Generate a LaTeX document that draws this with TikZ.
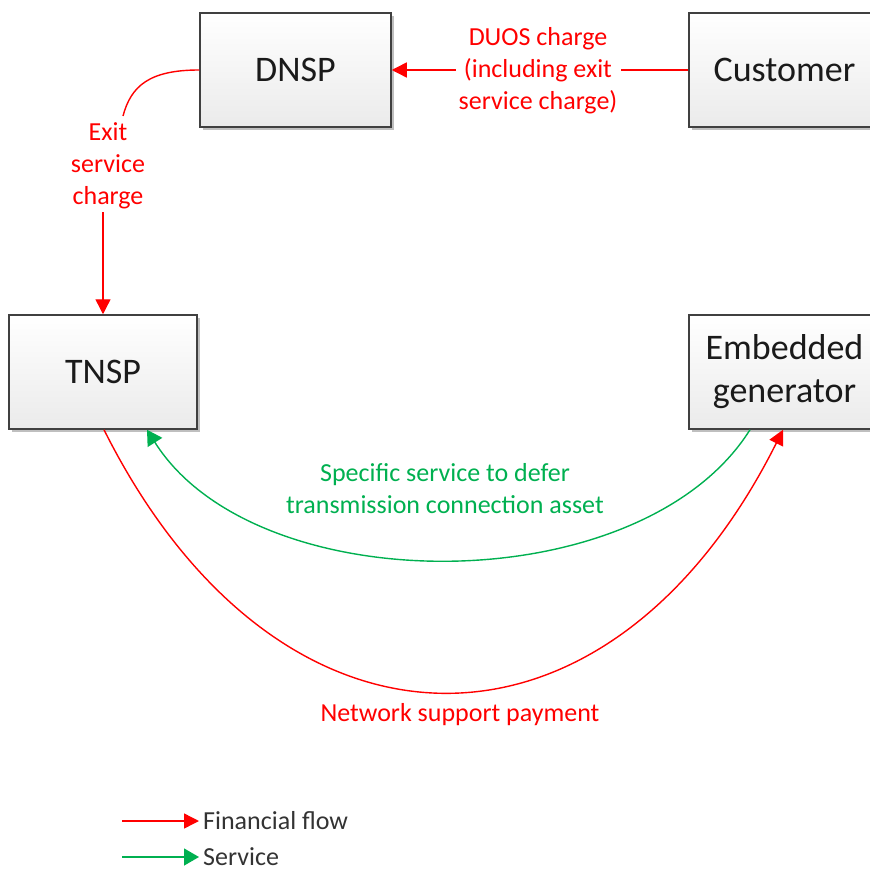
\documentclass[tikz,border=0pt]{standalone}
\usepackage{fontspec}
\setmainfont{Carlito}
\usetikzlibrary{arrows.meta,shadows}
\definecolor{fred}{HTML}{FF0000}
\definecolor{sgreen}{HTML}{00B050}
\definecolor{boxline}{HTML}{404040}
\definecolor{boxtext}{HTML}{1A1A1A}
\begin{document}
\begin{tikzpicture}[x=1pt,y=-1pt,
  entity/.style={draw=boxline, line width=1.5pt, top color=white, bottom color=black!8,
    minimum width=191pt, minimum height=114pt, inner sep=0pt, text=boxtext,
    font=\fontsize{36}{43}\selectfont, align=center,
    drop shadow={shadow xshift=3pt, shadow yshift=-3pt, opacity=0.25, fill=black}},
  lbl/.style={font=\fontsize{26}{32}\selectfont, align=center, inner sep=3pt},
  finline/.style={draw=fred, line width=1.4pt},
  fin/.style={finline, -{Triangle[length=15pt,width=15pt]}},
  svc/.style={draw=sgreen, line width=1.4pt, -{Triangle[length=15pt,width=17pt]}},
  legtext/.style={font=\fontsize{26}{32}\selectfont, text=black!80, anchor=west, inner sep=0pt}]
\useasboundingbox (0,0) rectangle (870,869);
% boxes
\node[entity] (dnsp) at (295.5,70) {DNSP};
\node[entity] (cust) at (784.5,70) {Customer};
\node[entity, minimum width=188pt] (tnsp) at (103,372) {TNSP};
\node[entity] (emb) at (784.5,372) {Embedded\\generator};
% labels
\node[lbl, text=fred] (duos) at (538,71) {DUOS charge\\(including exit\\service charge)};
\node[lbl, text=fred] (exit) at (108,166) {Exit\\service\\charge};
\node[lbl, text=sgreen] (spec) at (445,489) {Specific service to defer\\transmission connection asset};
\node[lbl, text=fred] (nsp) at (460,715) {Network support payment};
% connectors
\draw[finline] (cust.west) -- (cust.west -| duos.east);
\draw[fin] (dnsp.east -| duos.west) -- (dnsp.east);
\coordinate (exittop) at (123,116);
\draw[finline] (dnsp.west) .. controls +(-50,0) and +(8,-30) .. (exittop);
\draw[fin] (tnsp.north |- exit.south) -- (tnsp.north);
\draw[svc] ([xshift=-34.5pt]emb.south) .. controls (641,603) and (256,603) .. ([xshift=44pt]tnsp.south);
\draw[fin] ([xshift=1pt]tnsp.south) .. controls (279,779) and (608,779) .. ([xshift=-1.5pt]emb.south);
% legend
\coordinate (l1s) at (122,821);
\coordinate (l1e) at (199,821);
\coordinate (l2s) at (122,857);
\coordinate (l2e) at (199,857);
\draw[fin] (l1s) -- (l1e);
\draw[svc] (l2s) -- (l2e);
\node[legtext] (l1t) at (203,821) {Financial flow};
\node[legtext] (l2t) at (203,857) {Service};
\end{tikzpicture}
\end{document}
